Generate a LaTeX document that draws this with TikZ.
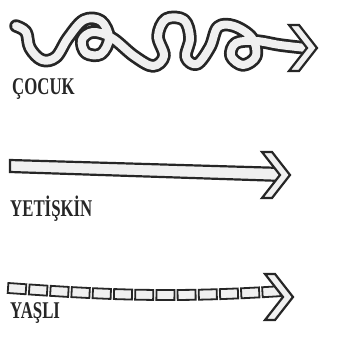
\documentclass[tikz,border=0pt]{standalone}
\usepackage{fontspec}
\newfontfamily\lblfont{Liberation Serif}[FakeStretch=0.7]
\newcommand{\arrowhd}[2]{%
  \draw[headline] (#1-18,#2-23) -- (#1,#2) -- (#1-18,#2+23) -- (#1-28,#2+23) -- (#1-10,#2) -- (#1-28,#2-23) -- cycle;}

\begin{document}
\begin{tikzpicture}[x=1pt,y=-1pt,
  ribbonout/.style={draw=black!85,line width=13.5pt,line cap=round,line join=round},
  ribbonin/.style={draw=gray!12,line width=8pt,line cap=round,line join=round},
  headline/.style={draw=black!85,fill=gray!12,line width=2.2pt,line join=miter},
  seg/.style={draw=black!85,fill=gray!12,line width=1.8pt,minimum width=18pt,minimum height=10pt,inner sep=0pt},
  lbl/.style={anchor=base west,inner sep=0pt,text=black!85,font=\lblfont\bfseries\fontsize{24}{24}\selectfont}]
\useasboundingbox (0,0) rectangle (358,358);

\path[ribbonin,preaction={ribbonout}] plot[smooth,tension=0.6] coordinates {
  (16,26) (26,32) (30,48) (42,60) (56,57) (68,38) (84,20) (101,21) (109,38)
  (101,54) (86,53) (82,40) (93,32) (112,38) (134,56) (153,66) (164,56) (158,36)
  (166,19) (184,20) (190,38) (186,57) (197,64) (210,47) (218,27) (234,26) (252,38)
  (256,56) (243,65) (231,56) (236,43) (256,41) (280,45) (306,48)};
\arrowhd{317}{48}
\node[lbl] (cocuk) at (12,95) {ÇOCUK};

\draw[headline] (10,160) -- (283,168) -- (283,181) -- (10,172) -- cycle;
\arrowhd{290}{175}
\node[lbl] (yetiskin) at (10,216) {YETİŞKİN};

\foreach \i in {0,...,12}{
  \pgfmathsetmacro\xx{17+21.2*\i}
  \pgfmathsetmacro\yy{288+7*sin(0.5625*(\xx-8))}
  \pgfmathsetmacro\rr{-4*cos(0.5625*(\xx-8))}
  \node[seg,rotate=\rr] (s\i) at (\xx,\yy) {};
}
\arrowhd{293}{297}
\node[lbl] (yasli) at (10,318) {YAŞLI};

\end{tikzpicture}
\end{document}
